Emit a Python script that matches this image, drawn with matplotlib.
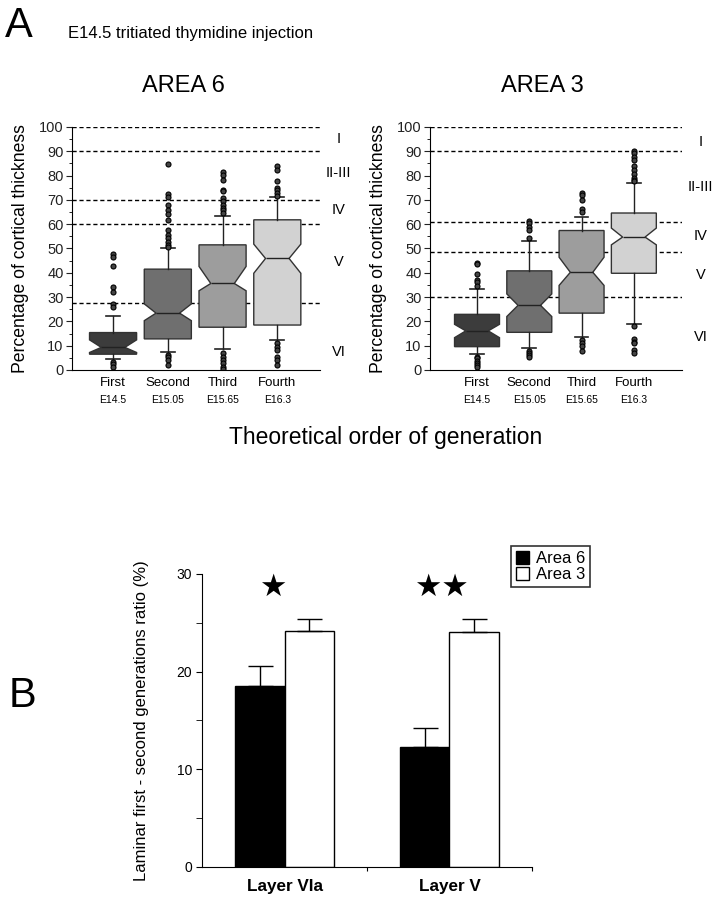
import matplotlib.pyplot as plt
from matplotlib.patches import Patch
from matplotlib.ticker import MultipleLocator
from matplotlib.transforms import blended_transform_factory

plt.rcParams['font.family'] = ['Liberation Sans', 'DejaVu Sans']

# ---- panel A data ----
gen_names = ["First", "Second", "Third", "Fourth"]
gen_days = ["E14.5", "E15.05", "E15.65", "E16.3"]
box_colors = ["#3c3c3c", "#6f6f6f", "#9d9d9d", "#d2d2d2"]

# Area 6
a6_med = [9.3, 23.4, 35.6, 45.9]
a6_q1 = [6.5, 12.8, 17.6, 18.5]
a6_q3 = [15.4, 41.5, 51.5, 61.8]
a6_cilo = [7.2, 20.3, 32.6, 39.8]
a6_cihi = [12.4, 27.2, 42.6, 51.8]
a6_whislo = [4.7, 7.4, 8.5, 12.4]
a6_whishi = [22.4, 50.0, 63.5, 71.0]
a6_fliers = [
    [47.8, 46.7, 43.0, 34.3, 31.9, 27.2, 26.1, 3.2, 2.3, 1.4],
    [84.9, 72.5, 71.2, 68.0, 66.0, 64.0, 61.8, 57.7, 55.6, 54.3, 52.5, 51.5,
     50.8, 6.2, 5.5, 4.1, 2.1],
    [81.3, 80.4, 78.0, 74.2, 73.5, 70.7, 69.4, 68.0, 66.6, 65.9, 64.6,
     6.9, 5.5, 4.1, 2.7, 1.4, 0.3],
    [83.8, 82.4, 77.6, 74.9, 73.9, 72.8, 71.5, 11.0, 9.6, 8.2, 5.5, 4.1, 2.1],
]
a6_bounds = [100, 90, 70, 60, 27.5]
a6_layers = ["I", "II-III", "IV", "V", "VI"]
a6_layer_y = [95, 81, 66, 44.6, 7.5]

# Area 3
a3_med = [16.1, 26.6, 40.2, 54.7]
a3_q1 = [9.6, 15.5, 23.4, 39.8]
a3_q3 = [22.9, 40.8, 57.4, 64.6]
a3_cilo = [13.3, 22.0, 34.8, 51.5]
a3_cihi = [18.8, 31.3, 46.4, 58.4]
a3_whislo = [6.5, 9.2, 13.7, 18.8]
a3_whishi = [33.5, 53.2, 62.9, 76.9]
a3_fliers = [
    [44.0, 43.5, 39.6, 37.1, 36.3, 34.6, 5.5, 4.8, 3.8, 3.0, 2.1, 1.4],
    [61.4, 60.4, 58.8, 57.7, 54.3, 8.0, 7.1, 6.2, 5.5],
    [72.8, 72.1, 69.8, 66.2, 65.2, 12.4, 11.0, 9.9, 8.0],
    [90.0, 89.3, 87.6, 86.5, 84.1, 82.4, 80.8, 79.0, 78.3, 77.6,
     17.9, 12.6, 11.7, 11.0, 8.2, 6.9],
]
a3_bounds = [100, 90, 61, 48.5, 30]
a3_layers = ["I", "II-III", "IV", "V", "VI"]
a3_layer_y = [94, 75.5, 55, 39, 13.7]

# ---- panel B data ----
layers_b = ["Layer VIa", "Layer V"]
area6_ratio = [18.5, 12.3]
area6_err = [2.1, 1.9]
area3_ratio = [24.2, 24.1]
area3_err = [1.2, 1.3]

fig = plt.figure(figsize=(7.23, 9.0), dpi=100)


def box_panel(ax, med, q1, q3, cilo, cihi, wlo, whi, fliers, bounds,
              layers, layer_y, xlim):
    stats = []
    for i in range(4):
        stats.append(dict(med=med[i], q1=q1[i], q3=q3[i], cilo=cilo[i],
                          cihi=cihi[i], whislo=wlo[i], whishi=whi[i],
                          fliers=fliers[i]))
    bp = ax.bxp(stats, positions=[1, 2, 3, 4], widths=0.86,
                capwidths=0.26, shownotches=True, patch_artist=True,
                boxprops=dict(edgecolor="#333333", linewidth=1.0),
                medianprops=dict(color="#222222", linewidth=1.0),
                whiskerprops=dict(color="#222222", linewidth=1.0),
                capprops=dict(color="#222222", linewidth=1.2),
                flierprops=dict(marker="o", markersize=3.6,
                                markerfacecolor="#444444",
                                markeredgecolor="black", markeredgewidth=0.8))
    for patch, c in zip(bp["boxes"], box_colors):
        patch.set_facecolor(c)
    for b in bounds:
        ax.axhline(b, color="black", linestyle=(0, (3, 2)), linewidth=1.0,
                   zorder=0.5)
    ax.set_xlim(*xlim)
    ax.set_ylim(0, 100)
    ax.yaxis.set_major_locator(MultipleLocator(10))
    ax.yaxis.set_minor_locator(MultipleLocator(5))
    ax.tick_params(axis="y", which="major", length=4, labelsize=10.5,
                   pad=2, colors="#222222")
    ax.tick_params(axis="y", which="minor", length=2)
    ax.set_xticks([1, 2, 3, 4])
    ax.set_xticklabels(gen_names, fontsize=9.5)
    ax.tick_params(axis="x", length=0, pad=5)
    tr = ax.get_xaxis_transform()
    for x, d in zip([1, 2, 3, 4], gen_days):
        ax.text(x, -0.125, d, transform=tr, ha="center", va="center",
                fontsize=7.5)
    trl = blended_transform_factory(ax.transAxes, ax.transData)
    for name, y in zip(layers, layer_y):
        ax.text(1.075, y, name, transform=trl, ha="center", va="center",
                fontsize=10.5, clip_on=False)
    ax.spines["top"].set_visible(False)
    ax.spines["right"].set_visible(False)
    ax.set_ylabel("Percentage of cortical thickness", fontsize=12.7,
                  labelpad=7)


ax1 = fig.add_axes([0.0996, 0.5889, 0.343, 0.27])
box_panel(ax1, a6_med, a6_q1, a6_q3, a6_cilo, a6_cihi, a6_whislo, a6_whishi,
          a6_fliers, a6_bounds, a6_layers, a6_layer_y, (0.25, 4.78))

ax2 = fig.add_axes([0.5947, 0.5889, 0.3485, 0.27])
box_panel(ax2, a3_med, a3_q1, a3_q3, a3_cilo, a3_cihi, a3_whislo, a3_whishi,
          a3_fliers, a3_bounds, a3_layers, a3_layer_y, (0.1, 4.92))

fig.text(0.254, 0.9045, "AREA 6", fontsize=17, ha="center", va="center")
fig.text(0.75, 0.9045, "AREA 3", fontsize=17, ha="center", va="center")

fig.text(0.007, 0.971, "A", fontsize=30, va="center", ha="left")
fig.text(0.094, 0.963, "E14.5 tritiated thymidine injection", fontsize=12,
         va="center", ha="left")
fig.text(0.534, 0.514, "Theoretical order of generation", fontsize=16.5,
         ha="center", va="center")

# ---- panel B ----
ax3 = fig.add_axes([0.2794, 0.0367, 0.4564, 0.3256])
xb = [0, 1]
w = 0.3
ax3.bar([x - w / 2 for x in xb], area6_ratio, width=w, color="black",
        edgecolor="black", linewidth=1.0, label="Area 6")
ax3.bar([x + w / 2 for x in xb], area3_ratio, width=w, color="white",
        edgecolor="black", linewidth=1.0, label="Area 3")
ax3.errorbar([x - w / 2 for x in xb], area6_ratio,
             yerr=[[0, 0], area6_err], fmt="none", ecolor="black",
             elinewidth=1.0, capsize=9, capthick=1.0)
ax3.errorbar([x + w / 2 for x in xb], area3_ratio,
             yerr=[[0, 0], area3_err], fmt="none", ecolor="black",
             elinewidth=1.0, capsize=9, capthick=1.0)
ax3.text(-0.07, 28.6, "★", fontsize=22, ha="center", va="center")
ax3.text(-0.05 + 1, 28.6, "★★", fontsize=22, ha="center", va="center")
ax3.set_xlim(-0.5, 1.5)
ax3.set_ylim(0, 30)
ax3.yaxis.set_major_locator(MultipleLocator(10))
ax3.yaxis.set_minor_locator(MultipleLocator(5))
ax3.tick_params(axis="y", which="major", length=4, labelsize=10, pad=3)
ax3.tick_params(axis="y", which="minor", length=4)
ax3.set_xticks([0.5, 1.5])
ax3.set_xticklabels([])
ax3.set_xticks(xb, minor=True)
ax3.set_xticklabels(layers_b, minor=True, fontsize=12.3, fontweight="bold")
ax3.tick_params(axis="x", which="major", length=3)
ax3.tick_params(axis="x", which="minor", length=0, pad=9)
ax3.spines["top"].set_visible(False)
ax3.spines["right"].set_visible(False)
ax3.set_ylabel("Laminar first - second generations ratio (%)", fontsize=12,
               labelpad=20)
leg_handles = [Patch(facecolor="black", edgecolor="black", label="Area 6"),
               Patch(facecolor="white", edgecolor="black", label="Area 3")]
leg = ax3.legend(handles=leg_handles, loc="upper left",
                 bbox_to_anchor=(0.7068, 0.393),
                 bbox_transform=fig.transFigure, fontsize=12,
                 frameon=True, fancybox=False, edgecolor="black",
                 handlelength=0.8, handleheight=0.8, handletextpad=0.4,
                 borderpad=0.3, labelspacing=0.05, borderaxespad=0)
leg.get_frame().set_linewidth(1.2)

fig.text(0.012, 0.227, "B", fontsize=30, va="center", ha="left")

plt.savefig("out.png", dpi=100)
